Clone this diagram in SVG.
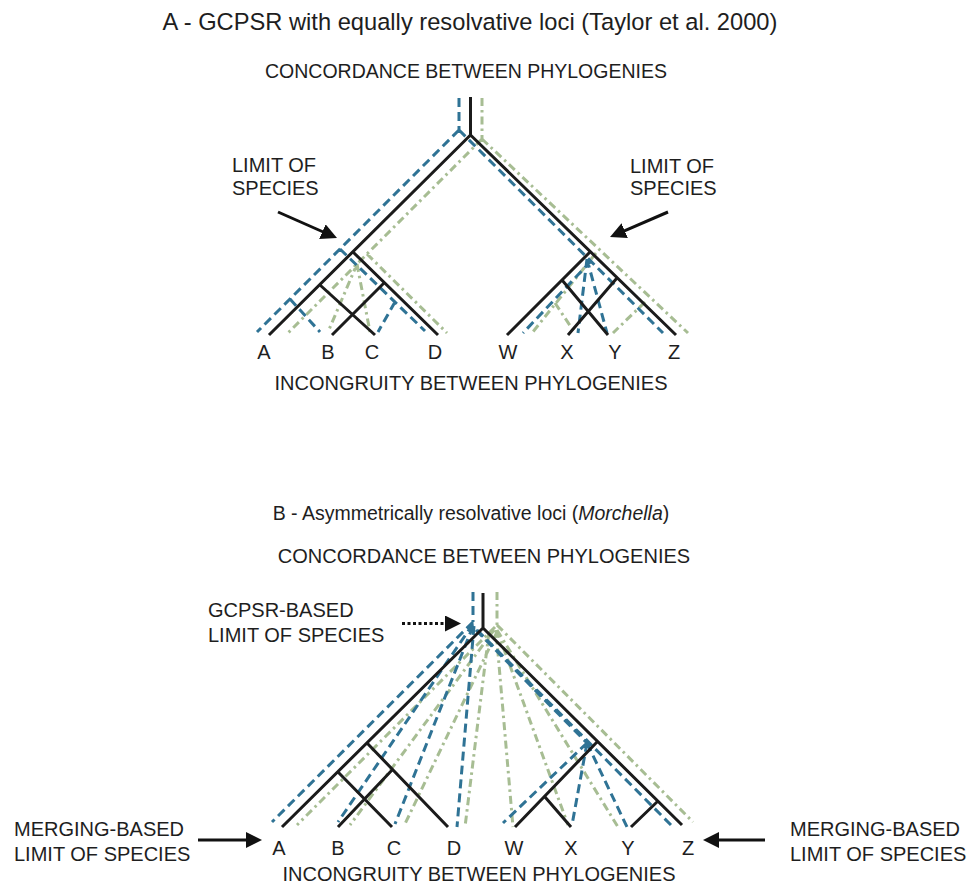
<svg xmlns="http://www.w3.org/2000/svg" width="980" height="886" viewBox="0 0 980 886">
<defs>
<style>
text{font-family:"Liberation Sans",Arial,sans-serif;fill:#1e1e1e;font-size:20px}
.k{stroke:#1b1b1b;stroke-width:3;fill:none}
.b{stroke:#2f7395;stroke-width:3;fill:none;stroke-dasharray:9 5}
.g{stroke:#a7bd93;stroke-width:3;fill:none;stroke-dasharray:8 4 2.5 4}
.arr{stroke:#111;stroke-width:3;fill:none;marker-end:url(#head)}
.dot{stroke:#111;stroke-width:3;fill:none;stroke-dasharray:3 2.5;marker-end:url(#head)}
.m{text-anchor:middle}
</style>
<marker id="head" viewBox="0 0 16 16" refX="1" refY="8" markerWidth="16" markerHeight="16" markerUnits="userSpaceOnUse" orient="auto">
<path d="M0,0 L16,8 L0,16 Z" fill="#111"/>
</marker>
</defs>
<rect width="980" height="886" fill="#fff"/>

<g id="connectors">
<g id="treeA-green">
<path class="g" d="M482,98 V139 M482,139 L288,333 M482,139 L688,333 M367,254 L447,333 M357,264 L328,332 M357,264 L370,332 M596,253 L532,333 M555,303 L575,333 M645,302 L613,333"/>
</g>
<g id="treeA-blue">
<path class="b" d="M459,98 V130 M459,130 L257,332 M459,130 L663,333 M340,249 L425,331 M395,302 L378,332 M290,299 L320,332 M591,261 L523,333 M587,259 L578,333 M587,259 L607,333"/>
</g>
<g id="treeA-black">
<path class="k" d="M470.5,97 V135 M470.5,135 L269,335 M353,252 L438,335 M320,285 L375,335 M384,283 L332,335 M470.5,135 L676,335 M590,252 L507,335 M562,280 L608,335 M617,278 L568,335"/>
</g>
<g id="treeB-green">
<path class="g" d="M497,592 V625 M495,627 L297,825 M494,630 L350,825 M497,632 L404,826 M489,632 L465,827 M496,630 L513,827 M497,630 L568,825 M497,630 L618,827 M497,625 L693,822"/>
</g>
<g id="treeB-blue">
<path class="b" d="M473,592 V622 M473,622 L272,822 M473,624 L338,822 M473,626 L395,824 M474,626 L457,827 M477,630 L673,827 M476,630 L587,743 M587,743 L503,823 M587,743 L572,825 M587,743 L627,827"/>
</g>
<g id="treeB-black">
<path class="k" d="M483,593 V628 M483,628 L282,827 M367,743 L448,827 M338,772 L392,827 M393,769 L338,827 M483,628 L682,825 M597,742 L515,827 M545,797 L571,827 M658,801 L631,827"/>
</g>
<g id="arrows">
<path class="arr" d="M278,212 L323.3,232"/>
<path class="arr" d="M668,212 L623.8,231.1"/>
<path class="dot" d="M402,623.5 L446,623.5"/>
<path class="arr" d="M198,840 L247,840"/>
<path class="arr" d="M765,840 L718,840"/>
</g>
</g>

<g id="title-a"><text class="m" x="470" y="30" style="font-size:23.7px">A - GCPSR with equally resolvative loci (Taylor et al. 2000)</text></g>
<g id="concordance-a"><text class="m" x="466" y="78" style="font-size:19.5px">CONCORDANCE BETWEEN PHYLOGENIES</text></g>
<g id="limit-left-a"><text x="232" y="172">LIMIT OF</text><text x="232" y="195">SPECIES</text></g>
<g id="limit-right-a"><text x="630" y="173">LIMIT OF</text><text x="630" y="195">SPECIES</text></g>
<g id="tips-a">
<text class="m" x="264" y="359">A</text><text class="m" x="328" y="359">B</text><text class="m" x="372" y="359">C</text><text class="m" x="435" y="359">D</text>
<text class="m" x="508" y="359">W</text><text class="m" x="567" y="359">X</text><text class="m" x="615" y="359">Y</text><text class="m" x="674" y="359">Z</text>
</g>
<g id="incongruity-a"><text class="m" x="471" y="390">INCONGRUITY BETWEEN PHYLOGENIES</text></g>

<g id="title-b"><text class="m" x="471" y="520" style="font-size:19.5px">B - Asymmetrically resolvative loci (<tspan font-style="italic">Morchella</tspan>)</text></g>
<g id="concordance-b"><text class="m" x="484" y="563">CONCORDANCE BETWEEN PHYLOGENIES</text></g>
<g id="gcpsr-limit"><text x="208" y="617">GCPSR-BASED</text><text x="208" y="642">LIMIT OF SPECIES</text></g>
<g id="merging-left"><text x="14" y="836">MERGING-BASED</text><text x="14" y="861">LIMIT OF SPECIES</text></g>
<g id="merging-right"><text x="790" y="836">MERGING-BASED</text><text x="790" y="861">LIMIT OF SPECIES</text></g>
<g id="tips-b">
<text class="m" x="279" y="855">A</text><text class="m" x="338" y="855">B</text><text class="m" x="394" y="855">C</text><text class="m" x="454" y="855">D</text>
<text class="m" x="514" y="855">W</text><text class="m" x="571" y="855">X</text><text class="m" x="628" y="855">Y</text><text class="m" x="688" y="855">Z</text>
</g>
<g id="incongruity-b"><text class="m" x="479" y="881">INCONGRUITY BETWEEN PHYLOGENIES</text></g>
</svg>
